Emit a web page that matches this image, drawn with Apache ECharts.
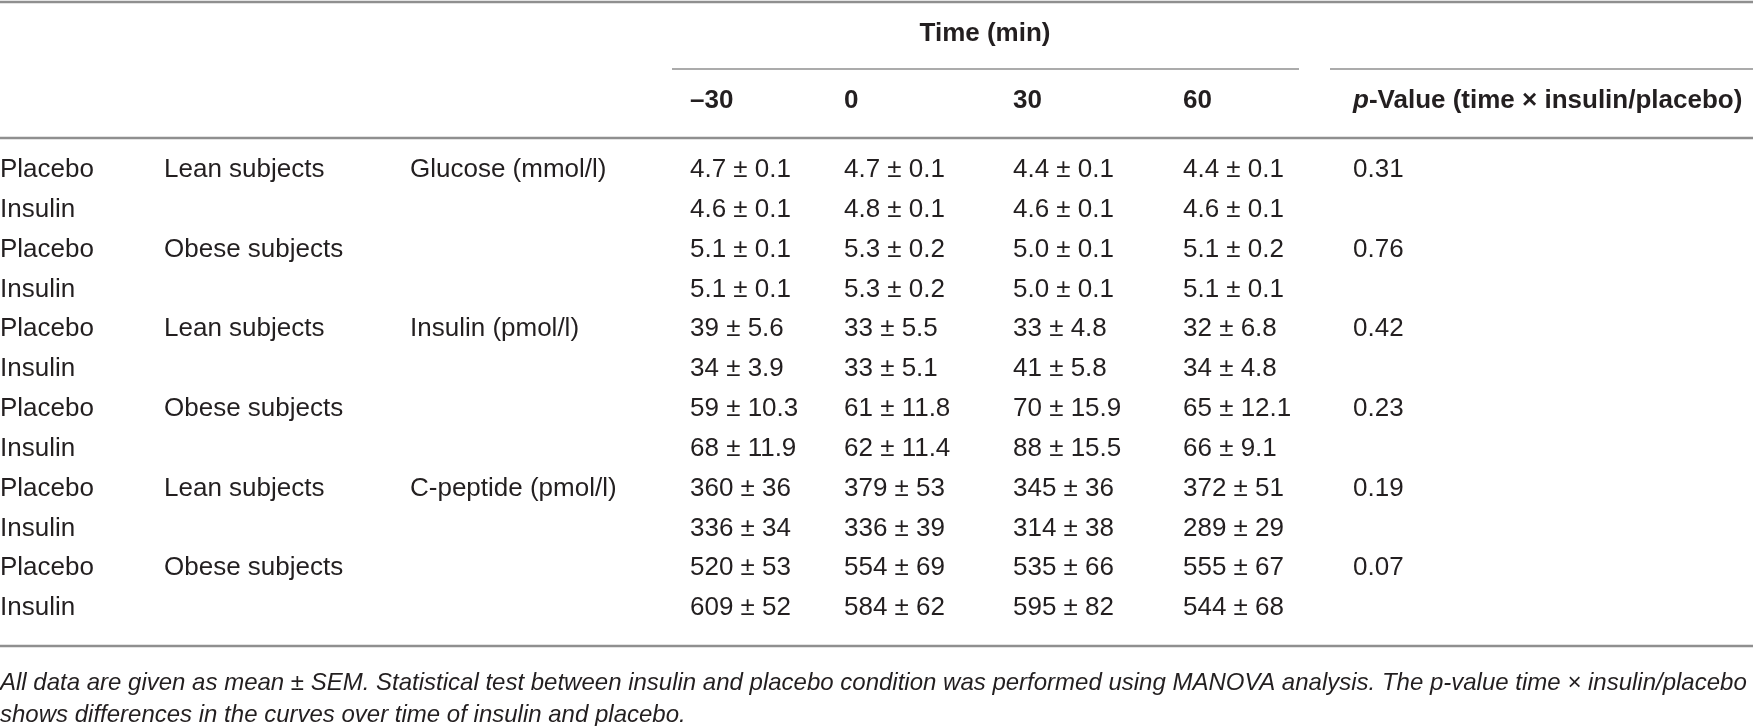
<!DOCTYPE html>
<html>
<head>
<meta charset="utf-8">
<script src="https://cdn.jsdelivr.net/npm/echarts@6/dist/echarts.min.js"></script>
<style>
  html, body { margin: 0; padding: 0; background: #fff; }
  #main { width: 1753px; height: 726px; }
</style>
</head>
<body>
<div id="main"></div>
<script>
// ---- table data ----
const treatments = ['Placebo', 'Insulin', 'Placebo', 'Insulin', 'Placebo', 'Insulin',
                    'Placebo', 'Insulin', 'Placebo', 'Insulin', 'Placebo', 'Insulin'];
const groups = ['Lean subjects', '', 'Obese subjects', '', 'Lean subjects', '',
                'Obese subjects', '', 'Lean subjects', '', 'Obese subjects', ''];
const variables = ['Glucose (mmol/l)', '', '', '', 'Insulin (pmol/l)', '', '', '',
                   'C-peptide (pmol/l)', '', '', ''];
const timeLabels = ['–30', '0', '30', '60'];

// mean per time point (columns: -30, 0, 30, 60)
const meanM30 = [4.7, 4.6, 5.1, 5.1, 39, 34, 59, 68, 360, 336, 520, 609];
const mean0   = [4.7, 4.8, 5.3, 5.3, 33, 33, 61, 62, 379, 336, 554, 584];
const mean30  = [4.4, 4.6, 5.0, 5.0, 33, 41, 70, 88, 345, 314, 535, 595];
const mean60  = [4.4, 4.6, 5.1, 5.1, 32, 34, 65, 66, 372, 289, 555, 544];
// SEM per time point
const semM30 = [0.1, 0.1, 0.1, 0.1, 5.6, 3.9, 10.3, 11.9, 36, 34, 53, 52];
const sem0   = [0.1, 0.1, 0.2, 0.2, 5.5, 5.1, 11.8, 11.4, 53, 39, 69, 62];
const sem30  = [0.1, 0.1, 0.1, 0.1, 4.8, 5.8, 15.9, 15.5, 36, 38, 66, 82];
const sem60  = [0.1, 0.1, 0.2, 0.1, 6.8, 4.8, 12.1, 9.1, 51, 29, 67, 68];
// decimals shown for mean / SEM, one entry per row
const meanDecimals = [1, 1, 1, 1, 0, 0, 0, 0, 0, 0, 0, 0];
const semDecimals  = [1, 1, 1, 1, 1, 1, 1, 1, 0, 0, 0, 0];
const pValues = ['0.31', '', '0.76', '', '0.42', '', '0.23', '', '0.19', '', '0.07', ''];

// ---- layout ----
const W = 1753;
const colX = [0, 164, 410, 690, 844, 1013, 1183, 1353];
const FONT = '"Liberation Sans", Arial, sans-serif';
const FS = 26;
const TXT = '#231f20';
const RULE = '#8f8f8f';

const means = [meanM30, mean0, mean30, mean60];
const sems = [semM30, sem0, sem30, sem60];
const rowIds = treatments.map((t, i) => 'r' + i);

const cells = [];
treatments.forEach((t, r) => {
  const rowText = [t, groups[r], variables[r]];
  for (let k = 0; k < 4; k++) {
    rowText.push(means[k][r].toFixed(meanDecimals[r]) + ' ± ' + sems[k][r].toFixed(semDecimals[r]));
  }
  rowText.push(pValues[r]);
  rowText.forEach((txt, c) => {
    if (txt) cells.push({ value: [colX[c], r], text: txt });
  });
});

function hline(x1, x2, y, w) {
  return { type: 'line', shape: { x1, y1: y, x2, y2: y }, style: { stroke: RULE, lineWidth: w }, silent: true };
}
function label(text, x, y, opts) {
  return {
    type: 'text', silent: true,
    style: Object.assign({
      text, x, y, fill: TXT,
      font: FS + 'px ' + FONT,
      align: 'left', verticalAlign: 'middle',
      textAlign: 'left', textVerticalAlign: 'middle'
    }, opts || {})
  };
}

const BOLD = 'bold ' + FS + 'px ' + FONT;
const graphics = [
  hline(0, W, 2, 2.5),
  hline(672, 1299, 69, 1.5),
  hline(1330, W, 69, 1.5),
  hline(0, W, 138, 2.5),
  hline(0, W, 646, 2.5),
  label('Time (min)', 985, 34, { font: BOLD, align: 'center', textAlign: 'center' }),
  label('{i|p}-Value (time × insulin/placebo)', colX[7], 101, {
    font: BOLD,
    rich: { i: { fontStyle: 'italic', fontWeight: 'bold', fontSize: FS, fontFamily: FONT, fill: TXT } }
  }),
  label('All data are given as mean ± SEM. Statistical test between insulin and placebo condition was performed using MANOVA analysis. The p-value time × insulin/placebo',
        0, 683, { font: 'italic 24px ' + FONT }),
  label('shows differences in the curves over time of insulin and placebo.', 0, 715, { font: 'italic 24px ' + FONT })
];
timeLabels.forEach((t, k) => {
  graphics.push(label(t, colX[3 + k], 101, { font: BOLD }));
});

const chart = echarts.init(document.getElementById('main'));
chart.setOption({
  backgroundColor: '#fff',
  animation: false,
  grid: { left: 0, right: 0, top: 150, height: 478 },
  xAxis: { type: 'value', min: 0, max: W, show: false },
  yAxis: { type: 'category', data: rowIds, inverse: true, show: false },
  graphic: graphics,
  series: [{
    type: 'custom',
    data: cells.map(c => c.value),
    renderItem(params, api) {
      const pt = api.coord([api.value(0), api.value(1)]);
      return {
        type: 'text',
        x: pt[0], y: pt[1],
        style: {
          text: cells[params.dataIndex].text,
          fill: TXT,
          font: FS + 'px ' + FONT,
          align: 'left', verticalAlign: 'middle',
          textAlign: 'left', textVerticalAlign: 'middle'
        }
      };
    }
  }]
});
</script>
</body>
</html>
